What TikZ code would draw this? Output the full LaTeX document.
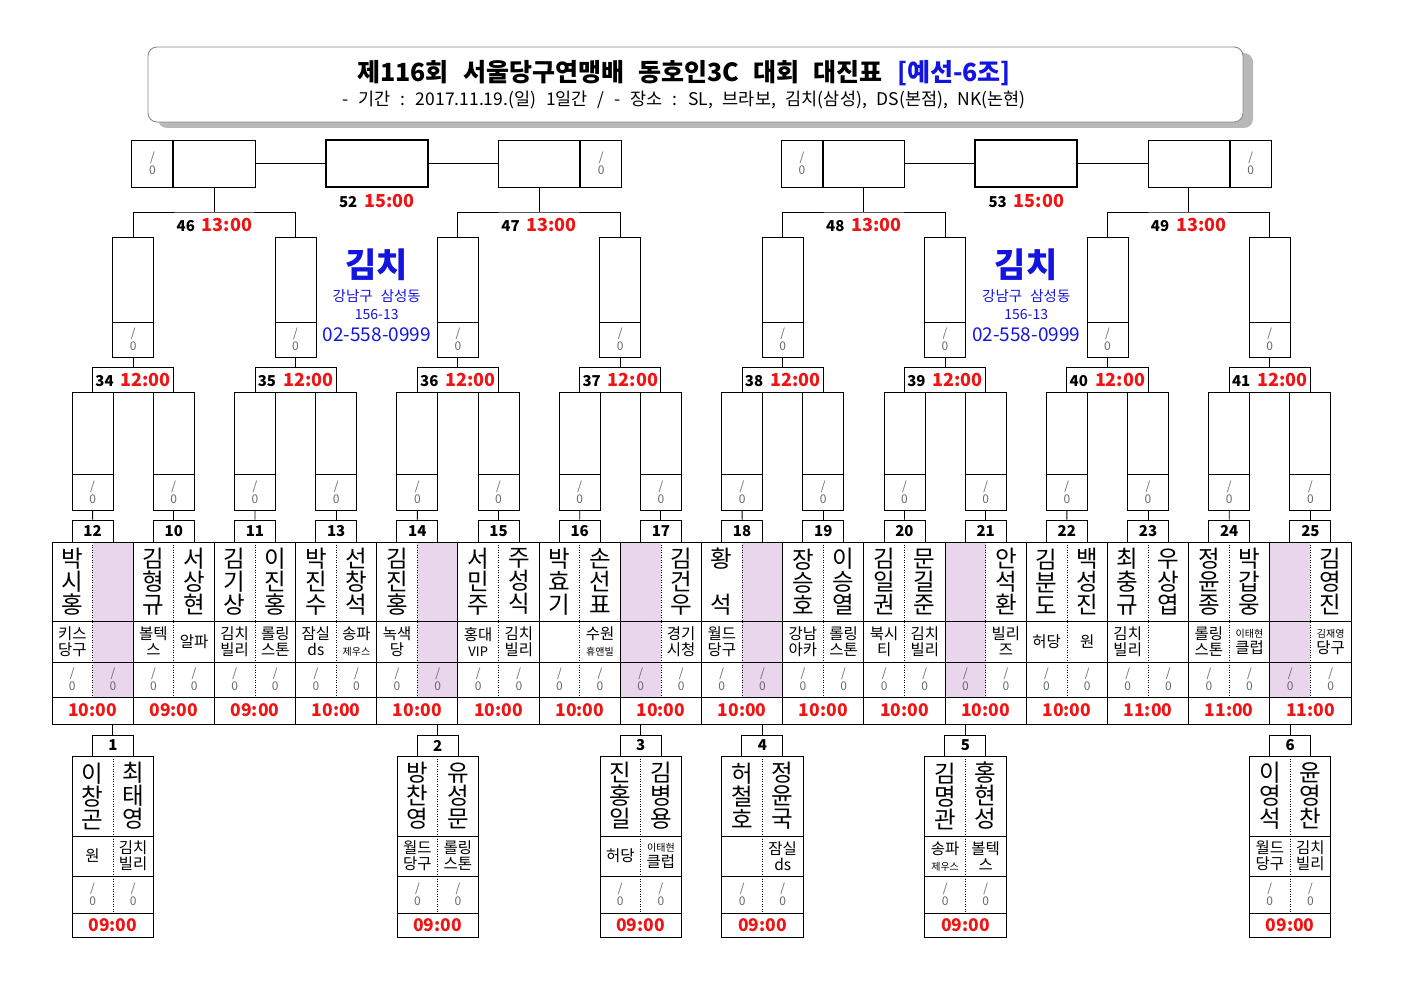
\documentclass[tikz,border=0pt]{standalone}
\usepackage{fontspec}
\setmainfont{Noto Sans CJK KR}
\newfontfamily\headfont{Noto Sans CJK KR}[WordSpace=4.5]
\newfontfamily\placefont{Noto Sans CJK KR}[WordSpace=3.4]
\newfontfamily\addrfont{Noto Sans CJK KR}[WordSpace=2.5]
\usetikzlibrary{positioning,calc,shadows}

\definecolor{byepink}{RGB}{233,214,236}
\definecolor{timered}{RGB}{240,20,20}
\definecolor{infoblue}{RGB}{20,20,225}
\definecolor{scoregray}{RGB}{105,105,105}

\newcommand{\sm}{\fontsize{10}{11}\selectfont}
\newcommand{\matchlbl}[2]{{\fontsize{15}{15}\selectfont\bfseries #1}\hspace{7pt}{\fontsize{18}{18}\selectfont\bfseries\color{timered}#2}}

\tikzset{
  numbox/.style={draw, minimum width=41pt, minimum height=22pt, inner sep=0pt, font=\fontsize{15}{15}\selectfont\bfseries},
  lblbox/.style={draw, minimum width=81.2pt, minimum height=25pt, inner sep=0pt},
  namecell/.style={minimum width=40.6pt, minimum height=79pt, inner sep=0pt, align=center, font=\fontsize{23.5}{23}\selectfont},
  clubcell/.style={minimum width=40.6pt, minimum height=41pt, inner sep=0pt, align=center, font=\fontsize{15.5}{16}\selectfont},
  scorecell/.style={minimum width=40.6pt, minimum height=35pt, inner sep=0pt, align=center, text=scoregray, font=\fontsize{12}{13}\selectfont},
  timecell/.style={minimum width=81.2pt, minimum height=27pt, inner sep=0pt, text=timered, font=\fontsize{17.5}{18}\selectfont\bfseries},
  slotbox/.style={draw, minimum width=41pt, inner sep=0pt},
  scorebox/.style={slotbox, align=center, text=scoregray, font=\fontsize{12}{13}\selectfont},
  finalbox/.style={draw, line width=2.4pt, minimum width=102pt, minimum height=47pt, inner sep=0pt},
  dotline/.style={line width=0.7pt, dash pattern=on 1pt off 1.5pt},
  titlebox/.style={draw=black!45, fill=white, rounded corners=9pt, minimum width=1095pt, minimum height=75pt,
    drop shadow={shadow xshift=10pt, shadow yshift=-6pt, fill=black!28, opacity=1}},
  info/.style={text=infoblue, inner sep=0pt}
}

\begin{document}
\begin{tikzpicture}[x=1pt, y=-1pt, line width=0.9pt]
\useasboundingbox (0,0) rectangle (1403,992);

% title
\node[titlebox] (title) at (695.5,84.5) {};
\node[font=\headfont\fontsize{25}{25}\selectfont\bfseries] (head) at (684,73)
  {제116회 서울당구연맹배 동호인3C 대회 대진표 \textcolor{infoblue}{[예선-6조]}};
\node[font=\placefont\fontsize{17.5}{17.5}\selectfont] (place) at (684,100)
  {- 기간 : 2017.11.19.(일) 1일간 / - 장소 : SL, 브라보, 김치(삼성), DS(본점), NK(논현)};

% first round table
\foreach \i/\m/\tm/\bye/\pa/\pb/\ca/\cb in {
  0/12/10:00/2/{박\\시\\홍}/{}/{키스\\당구}/{},
  1/10/09:00/0/{김\\형\\규}/{서\\상\\현}/{볼텍\\스}/{알파},
  2/11/09:00/0/{김\\기\\상}/{이\\진\\홍}/{김치\\빌리}/{롤링\\스톤},
  3/13/10:00/0/{박\\진\\수}/{선\\창\\석}/{잠실\\ds}/{송파\\{\sm 제우스}},
  4/14/10:00/2/{김\\진\\홍}/{}/{녹색\\당}/{},
  5/15/10:00/0/{서\\민\\주}/{주\\성\\식}/{홍대\\{\fontsize{13}{14}\selectfont VIP}}/{김치\\빌리},
  6/16/10:00/0/{박\\효\\기}/{손\\선\\표}/{}/{수원\\{\sm 휴앤빌}},
  7/17/10:00/1/{}/{김\\건\\우}/{}/{경기\\시청},
  8/18/10:00/2/{황\\\mbox{}\\석}/{}/{월드\\당구}/{},
  9/19/10:00/0/{장\\승\\호}/{이\\승\\열}/{강남\\아카}/{롤링\\스톤},
  10/20/10:00/0/{김\\일\\권}/{문\\길\\준}/{북시\\티}/{김치\\빌리},
  11/21/10:00/1/{}/{안\\석\\환}/{}/{빌리\\즈},
  12/22/10:00/0/{김\\분\\도}/{백\\성\\진}/{허당}/{원},
  13/23/11:00/0/{최\\충\\규}/{우\\상\\엽}/{김치\\빌리}/{},
  14/24/11:00/0/{정\\윤\\종}/{박\\갑\\웅}/{롤링\\스톤}/{{\sm 이태현}\\클럽},
  15/25/11:00/1/{}/{김\\영\\진}/{}/{{\sm 김재영}\\당구}}{
  \pgfmathsetmacro{\xl}{52+81.1875*\i}
  \ifnum\bye=1 \fill[byepink] (\xl,542) rectangle ++(40.6,155); \fi
  \ifnum\bye=2 \fill[byepink] (\xl+40.6,542) rectangle ++(40.6,155); \fi
  \node[numbox] (m\m) at (\xl+40.6,531) {\m};
  \node[namecell] (n\m a) at (\xl+20.3,581.5) {\pa};
  \node[namecell] (n\m b) at (\xl+60.9,581.5) {\pb};
  \node[clubcell] (c\m a) at (\xl+20.3,641.5) {\ca};
  \node[clubcell] (c\m b) at (\xl+60.9,641.5) {\cb};
  \node[scorecell] (s\m a) at (\xl+20.3,679.5) {/\\0};
  \node[scorecell] (s\m b) at (\xl+60.9,679.5) {/\\0};
  \node[timecell] (t\m) at (\xl+40.6,710.5) {\tm};
  \draw[dotline] (\xl+40.6,542) -- ++(0,155);
}
\draw (52,542) rectangle (1351,724);
\foreach \y in {621,662,697} \draw (52,\y) -- (1351,\y);
\foreach \i in {1,...,15} \draw ({52+81.1875*\i},542) -- ++(0,182);

% second round
\foreach \k/\m/\ma/\mb in {0/34/12/10, 1/35/11/13, 2/36/14/15, 3/37/16/17,
                           4/38/18/19, 5/39/20/21, 6/40/22/23, 7/41/24/25}{
  \pgfmathsetmacro{\xc}{52+81.1875*(2*\k+1)}
  \node[lblbox] (m\m) at (\xc,379.5) {\matchlbl{\m}{12:00}};
  \node[slotbox, minimum height=82pt] (w\ma) at (\xc-40.6,433) {};
  \node[scorebox, minimum height=36pt] (w\ma s) at (\xc-40.6,492) {/\\0};
  \node[slotbox, minimum height=82pt] (w\mb) at (\xc+40.6,433) {};
  \node[scorebox, minimum height=36pt] (w\mb s) at (\xc+40.6,492) {/\\0};
  \draw (m\ma.north) -- (w\ma s.south);
  \draw (m\mb.north) -- (w\mb s.south);
  % winner slot of this match
  \node[slotbox, minimum height=85pt] (w\m) at (\xc,279.5) {};
  \node[scorebox, minimum height=35pt] (w\m s) at (\xc,339.5) {/\\0};
  \draw (m\m.north) -- (w\m s.south);
}

% third round
\foreach \j/\m/\ma/\mb/\anc/\sd in {0/46/34/35/east/west, 1/47/36/37/west/east,
                                    2/48/38/39/east/west, 3/49/40/41/west/east}{
  \pgfmathsetmacro{\xc}{52+81.1875*(4*\j+2)}
  \coordinate (j\m) at (\xc,212);
  \draw (w\ma.north) |- (j\m) -| (w\mb.north);
  \node (l\m) at (\xc,225) {\matchlbl{\m}{13:00}};
  \node[slotbox, minimum width=81.2pt, minimum height=47pt] (w\m) at (\xc,163.5) {};
  \node[scorebox, minimum height=47pt, anchor=\anc] (w\m s) at (w\m.\sd) {/\\0};
  \draw (j\m) -- (w\m.south);
}

% finals
\foreach \m/\xc/\ma/\mb in {52/376.75/46/47, 53/1026.25/48/49}{
  \node[finalbox] (w\m) at (\xc,163.5) {};
  \draw (w\ma.east) -- (w\m.west);
  \draw (w\m.east) -- (w\mb.west);
  \node[inner sep=0pt, below=6pt of w\m] (l\m) {\matchlbl{\m}{15:00}};
  % venue
  \node[info, font=\fontsize{34}{34}\selectfont\bfseries] (shop\m) at (\xc,265) {김치};
  \node[info, font=\addrfont\fontsize{14.5}{14.5}\selectfont] (addr\m) at (\xc,296) {강남구 삼성동};
  \node[info, font=\fontsize{14}{14}\selectfont] (lot\m) at (\xc,315) {156-13};
  \node[info, font=\fontsize{19}{19}\selectfont] (tel\m) at (\xc,335) {02-558-0999};
}

% qualifying matches
\foreach \q/\xc/\up/\pa/\pb/\ca/\cb in {
  1/112.9/12/{이\\창\\곤}/{최\\태\\영}/{원}/{김치\\빌리},
  2/437.65/14/{방\\찬\\영}/{유\\성\\문}/{월드\\당구}/{롤링\\스톤},
  3/640.6/17/{진\\홍\\일}/{김\\병\\용}/{허당}/{{\sm 이태현}\\클럽},
  4/762.4/18/{허\\철\\호}/{정\\윤\\국}/{}/{잠실\\ds},
  5/965.4/21/{김\\명\\관}/{홍\\현\\성}/{송파\\{\sm 제우스}}/{볼텍\\스},
  6/1290.1/25/{이\\영\\석}/{윤\\영\\찬}/{월드\\당구}/{김치\\빌리}}{
  \node[numbox, minimum height=21pt] (g\q) at (\xc,745.5) {\q};
  \node[namecell, minimum height=80pt] (g\q a) at (\xc-20.3,796) {\pa};
  \node[namecell, minimum height=80pt] (g\q b) at (\xc+20.3,796) {\pb};
  \node[clubcell, minimum height=40pt] (h\q a) at (\xc-20.3,856) {\ca};
  \node[clubcell, minimum height=40pt] (h\q b) at (\xc+20.3,856) {\cb};
  \node[scorecell, minimum height=37pt] (k\q a) at (\xc-20.3,894.5) {/\\0};
  \node[scorecell, minimum height=37pt] (k\q b) at (\xc+20.3,894.5) {/\\0};
  \node[timecell, minimum height=24pt] (u\q) at (\xc,925) {09:00};
  \draw (\xc-40.6,756) rectangle (\xc+40.6,937);
  \foreach \y in {836,876,913} \draw (\xc-40.6,\y) -- (\xc+40.6,\y);
  \draw[dotline] (\xc,756) -- (\xc,913);
  \draw (g\q.north) -- (t\up.south -| g\q.north);
}
\end{tikzpicture}
\end{document}
